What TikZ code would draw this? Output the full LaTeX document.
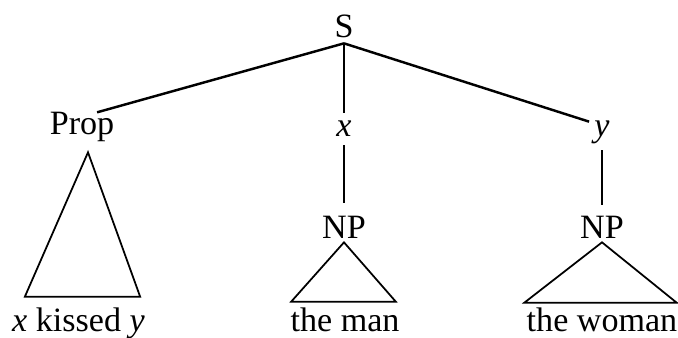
\documentclass[tikz,border=0pt]{standalone}
\usepackage{fontspec}
\setmainfont{Liberation Serif}
\usepackage{tikz}

\begin{document}
\begin{tikzpicture}[
        lab/.style={inner sep=0pt, anchor=base, font=\fontsize{19.4}{23}\selectfont},
        branch/.style={line width=1.4pt},
        stem/.style={line width=0.8pt},
        tri/.style={line width=1pt, line join=miter},
    ]
        \useasboundingbox (0,0) rectangle (13.56,-6.76);

        % Root
        \node[lab, text depth=0.1cm] (S) at (6.88,-0.76) {S};

        % Second level
        \node[lab, text depth=0.34cm] (Prop) at (1.64,-2.70) {Prop};
        \node[lab, text height=0.48cm, text depth=0.16cm] (x) at (6.88,-2.74) {\textit{x}};
        \node[lab, inner xsep=0.1cm, text height=0.3cm, text depth=0.26cm] (y) at (12.04,-2.74) {\textit{y}};

        % Noun phrases
        \node[lab, text height=0.72cm, text depth=0.06cm] (NPa) at (6.88,-4.78) {NP};
        \node[lab, text height=0.68cm, text depth=0.06cm] (NPb) at (12.04,-4.78) {NP};

        % Leaves
        \node[lab, text height=0.70cm] (kissed) at (1.57,-6.64) {\textit{x} kissed \textit{y}};
        \node[lab, text height=0.60cm] (man) at (6.90,-6.64) {the man};
        \node[lab, text height=0.58cm] (woman) at (12.04,-6.64) {the woman};

        % Branches from S
        \draw[branch] (S.south) -- (Prop.53);
        \draw[stem] (S.south) -- (x.north);
        \draw[branch] (S.south) -- (y.north west);

        % Stems to NP
        \draw[stem] (x.south) -- (NPa.north);
        \draw[stem] (y.south) -- (NPb.north);

        % Triangles
        \draw[tri] ([xshift=0.12cm]Prop.south) -- ([xshift=-0.1cm]kissed.north east)
            -- ([xshift=0.26cm]kissed.north west) -- cycle;
        \draw[tri] (NPa.south) -- ([xshift=-0.08cm]man.north east)
            -- ([xshift=0.02cm]man.north west) -- cycle;
        \draw[tri] (NPb.south) -- ([xshift=-0.02cm]woman.north east)
            -- ([xshift=-0.04cm]woman.north west) -- cycle;
    \end{tikzpicture}
\end{document}
